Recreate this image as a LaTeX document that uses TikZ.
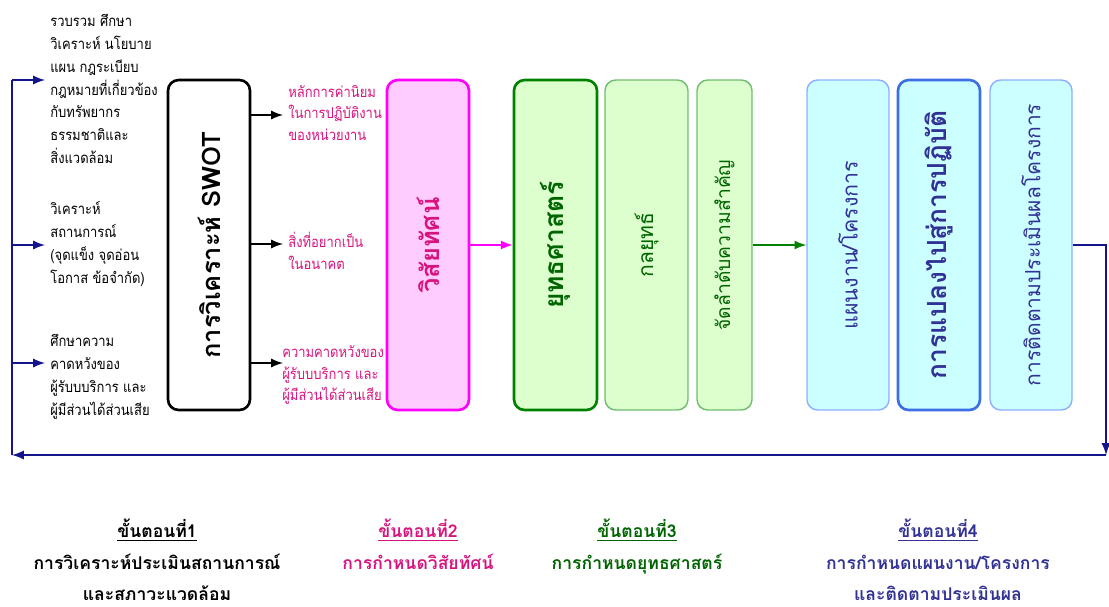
\documentclass[tikz,border=0pt]{standalone}
\usepackage{fontspec}
\setmainfont[Script=Thai]{Loma}
\newfontfamily\narrowthai[Script=Thai, FakeStretch=0.87]{Loma}
\usepackage{tikz}
\usetikzlibrary{arrows, positioning, calc}
\definecolor{loopnavy}{RGB}{20, 20, 140}
\definecolor{stepnavy}{RGB}{50, 50, 150}
\definecolor{visionpink}{RGB}{215, 20, 125}
\definecolor{visionmag}{RGB}{255, 0, 255}
\definecolor{visionfill}{RGB}{255, 204, 255}
\definecolor{stratgreen}{RGB}{0, 130, 0}
\definecolor{stratdark}{RGB}{0, 100, 0}
\definecolor{stratfill}{RGB}{220, 255, 205}
\definecolor{tacticgreen}{RGB}{110, 190, 110}
\definecolor{planfill}{RGB}{204, 255, 255}
\definecolor{planedge}{RGB}{140, 175, 255}
\definecolor{planblue}{RGB}{60, 110, 230}
\tikzset{
    colbox/.style={rounded corners=6pt, minimum height=6.6cm, inner sep=0pt},
    inputtext/.style={anchor=west, inner sep=0pt, align=left, font=\narrowthai\fontsize{8.5}{13}\selectfont},
    pinktext/.style={anchor=west, inner sep=0pt, align=left, text=visionpink, font=\narrowthai\fontsize{8.5}{12.5}\selectfont},
    steplabel/.style={anchor=north, inner sep=0pt, align=center, font=\fontsize{10}{17.8}\selectfont\bfseries},
    looparrow/.style={draw=loopnavy, line width=1.3pt, -latex},
    blackarrow/.style={draw=black, line width=1.3pt, -latex}
}

\begin{document}
\begin{tikzpicture}[x=0.02cm, y=-0.02cm]
    \useasboundingbox (0,0) rectangle (1109,606);

    % main column boxes
    \node[colbox, draw=black, line width=1.5pt, fill=white, minimum width=1.64cm] (swot) at (209,245)
        {\rotatebox{90}{\fontsize{14.5}{14.5}\selectfont\bfseries การวิเคราะห์ SWOT}};
    \node[colbox, draw=visionmag, line width=1.5pt, fill=visionfill, minimum width=1.64cm] (vision) at (428,245)
        {\rotatebox{90}{\textcolor{visionpink}{\fontsize{14.5}{14.5}\selectfont\bfseries วิสัยทัศน์}}};
    \node[colbox, draw=stratgreen, line width=1.5pt, fill=stratfill, minimum width=1.66cm] (strat) at (555.5,245)
        {\rotatebox{90}{\textcolor{stratdark}{\fontsize{15}{15}\selectfont\bfseries ยุทธศาสตร์}}};
    \node[colbox, draw=tacticgreen, line width=0.8pt, fill=stratfill, minimum width=1.66cm] (tactic) at (646.5,245)
        {\rotatebox{90}{\textcolor{stratdark}{\fontsize{12}{12}\selectfont กลยุทธ์}}};
    \node[colbox, draw=tacticgreen, line width=0.8pt, fill=stratfill, minimum width=1.1cm] (prior) at (724.5,245)
        {\rotatebox{90}{\textcolor{stratdark}{\fontsize{11}{11}\selectfont จัดลำดับความสำคัญ}}};
    \node[colbox, draw=planedge, line width=0.8pt, fill=planfill, minimum width=1.64cm] (plan) at (848,245)
        {\rotatebox{90}{\textcolor{stepnavy}{\fontsize{12.2}{12.2}\selectfont แผนงาน/โครงการ}}};
    \node[colbox, draw=planblue, line width=1.5pt, fill=planfill, minimum width=1.64cm] (impl) at (939,245)
        {\rotatebox{90}{\textcolor{stepnavy}{\fontsize{15}{15}\selectfont\bfseries การแปลงไปสู่การปฏิบัติ}}};
    \node[colbox, draw=planedge, line width=0.8pt, fill=planfill, minimum width=1.64cm] (eval) at (1031,245)
        {\rotatebox{90}{\textcolor{stepnavy}{\fontsize{12}{12}\selectfont การติดตามประเมินผลโครงการ}}};

    % inputs on the left
    \node[inputtext] (in1) at (50,89) {รวบรวม ศึกษา\\วิเคราะห์ นโยบาย\\แผน กฎระเบียบ\\กฎหมายที่เกี่ยวข้อง\\กับทรัพยากร\\ธรรมชาติและ\\สิ่งแวดล้อม};
    \node[inputtext] (in2) at (50,244) {วิเคราะห์\\สถานการณ์\\(จุดแข็ง จุดอ่อน\\โอกาส ข้อจำกัด)};
    \node[inputtext] (in3) at (50,377) {ศึกษาความ\\คาดหวังของ\\ผู้รับบบริการ และ\\ผู้มีส่วนได้ส่วนเสีย};

    % outputs of SWOT
    \node[pinktext] (out1) at (288,113) {หลักการค่านิยม\\ในการปฏิบัติงาน\\ของหน่วยงาน};
    \node[pinktext] (out2) at (288,251) {สิ่งที่อยากเป็น\\ในอนาคต};
    \node[pinktext] (out3) at (282,375) {ความคาดหวังของ\\ผู้รับบบริการ และ\\ผู้มีส่วนได้ส่วนเสีย};

    % feedback loop
    \coordinate (loopr) at (1106,455);
    \coordinate (loopl) at (12,455);
    \coordinate (tap1) at (45,80);
    \coordinate (tap2) at (45,245);
    \coordinate (tap3) at (45,363);
    \draw[looparrow] (eval.east) -| (loopr);
    \draw[looparrow] (loopr) -- (loopl);
    \draw[draw=loopnavy, line width=1.3pt] (loopl) -- (loopl |- tap1);
    \draw[looparrow] (loopl |- tap1) -- (tap1);
    \draw[looparrow] (loopl |- tap2) -- (tap2);
    \draw[looparrow] (loopl |- tap3) -- (tap3);

    % SWOT to outputs
    \coordinate (pin1) at (283,115);
    \coordinate (pin2) at (283,244);
    \coordinate (pin3) at (283,363);
    \draw[blackarrow] (swot.east |- pin1) -- (pin1);
    \draw[blackarrow] (swot.east |- pin2) -- (pin2);
    \draw[blackarrow] (swot.east |- pin3) -- (pin3);

    \draw[draw=visionmag, line width=1.3pt, -latex] (vision) -- (strat);
    \draw[draw=stratgreen, line width=1.3pt, -latex] (prior) -- (plan);

    % steps
    \node[steplabel, text=black] (step1) at (157,519) {\underline{ขั้นตอนที่1}\\การวิเคราะห์ประเมินสถานการณ์\\และสภาวะแวดล้อม};
    \node[steplabel, text=visionpink] (step2) at (418,519) {\underline{ขั้นตอนที่2}\\การกำหนดวิสัยทัศน์};
    \node[steplabel, text=stratdark] (step3) at (637,519) {\underline{ขั้นตอนที่3}\\การกำหนดยุทธศาสตร์};
    \node[steplabel, text=stepnavy] (step4) at (938,519) {\underline{ขั้นตอนที่4}\\การกำหนดแผนงาน/โครงการ\\และติดตามประเมินผล};
\end{tikzpicture}
\end{document}
